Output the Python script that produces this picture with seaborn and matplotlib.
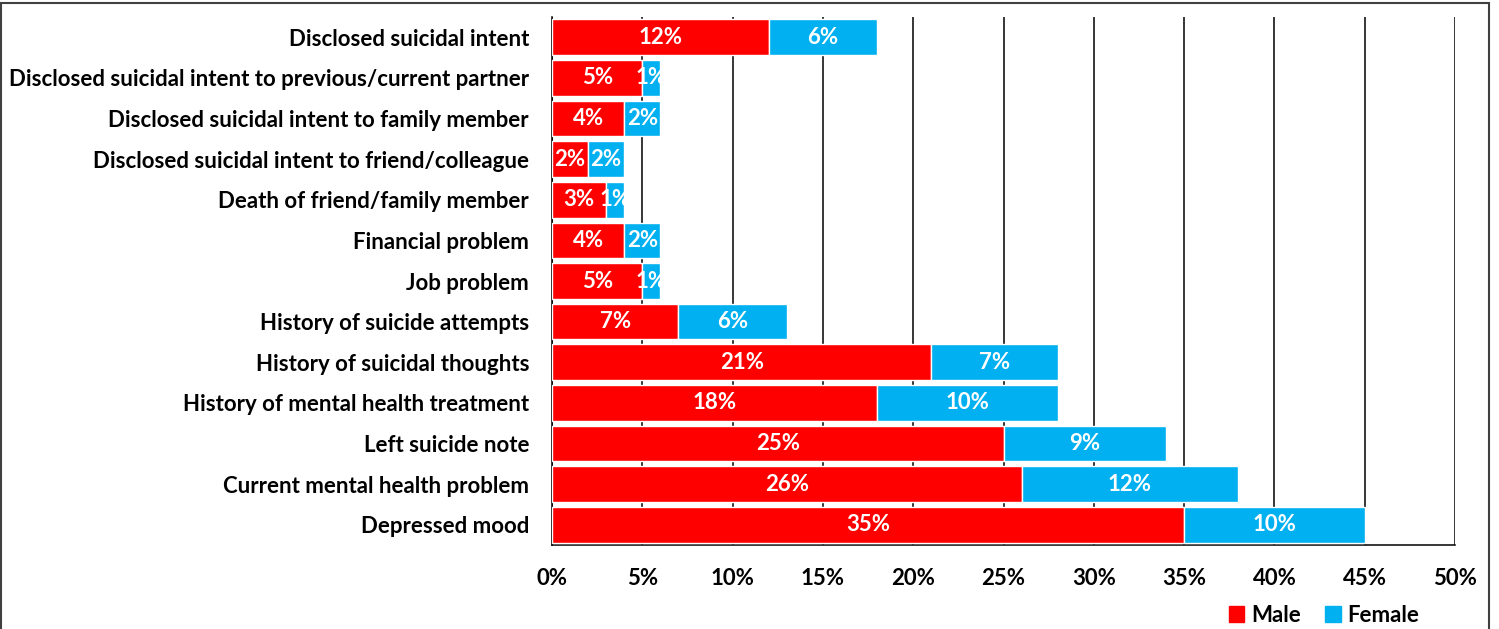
import numpy as np
import matplotlib
matplotlib.use("Agg")
import matplotlib.pyplot as plt
import matplotlib.patches as mpatches
from matplotlib.ticker import FixedLocator, PercentFormatter
import seaborn as sns

categories = [
    "Disclosed suicidal intent",
    "Disclosed suicidal intent to previous/current partner",
    "Disclosed suicidal intent to family member",
    "Disclosed suicidal intent to friend/colleague",
    "Death of friend/family member",
    "Financial problem",
    "Job problem",
    "History of suicide attempts",
    "History of suicidal thoughts",
    "History of mental health treatment",
    "Left suicide note",
    "Current mental health problem",
    "Depressed mood",
]
male = [12, 5, 4, 2, 3, 4, 5, 7, 21, 18, 25, 26, 35]
female = [6, 1, 2, 2, 1, 2, 1, 6, 7, 10, 9, 12, 10]
x_ticks = [0, 5, 10, 15, 20, 25, 30, 35, 40, 45, 50]

RED = "#FF0000"
BLUE = "#00B0F0"
FS = 16

sns.set_style("white")
plt.rcParams["font.family"] = ["Lato", "DejaVu Sans"]
plt.rcParams["font.weight"] = "bold"
plt.rcParams["text.color"] = "black"
plt.rcParams["xtick.color"] = "black"
plt.rcParams["ytick.color"] = "black"

fig = plt.figure(figsize=(14.99, 6.29), dpi=100)
ax = fig.add_axes([552 / 1499, 1 - 545 / 629, 903 / 1499, 528 / 629])

sns.barplot(x=male, y=categories, color=RED, width=0.88, saturation=1,
            orient="h", ax=ax, zorder=3)
pos = np.arange(len(categories))
ax.barh(pos, female, left=male, height=0.88, color=BLUE, zorder=3)

# labels in the middle of each segment
for cont, vals in zip(ax.containers, [male, female]):
    ax.bar_label(cont, labels=[f"{v}%" for v in vals], label_type="center",
                 color="white", fontsize=FS, fontweight="bold")

ax.set_xlim(0, 50)
ax.set_ylim(len(categories) - 0.5, -0.5)
ax.xaxis.set_major_locator(FixedLocator(x_ticks))
ax.xaxis.set_major_formatter(PercentFormatter(decimals=0))
ax.set_axisbelow(True)
ax.grid(axis="x", color="black", linewidth=1.1)
ax.grid(axis="y", visible=False)

ax.set_yticks(pos)
ax.set_yticks(np.arange(len(categories) + 1) - 0.5, minor=True)
ax.tick_params(axis="y", which="major", length=0, pad=16.5, labelsize=FS,
               labelcolor="black")
ax.tick_params(axis="y", which="minor", direction="inout", length=12, width=1, color="black")
ax.tick_params(axis="x", direction="inout", length=12, width=1, color="black",
               labelsize=FS, pad=10.5, labelcolor="black")
for lab in ax.get_xticklabels() + ax.get_yticklabels():
    lab.set_fontweight("bold")

for s in ["top", "right"]:
    ax.spines[s].set_visible(False)
for s in ["left", "bottom"]:
    ax.spines[s].set_color("black")
    ax.spines[s].set_linewidth(1.1)
ax.set_xlabel("")
ax.set_ylabel("")

handles = [mpatches.Patch(color=RED, label="Male"),
           mpatches.Patch(color=BLUE, label="Female")]
fig.legend(handles=handles, loc="center", ncol=2, frameon=False,
           bbox_to_anchor=(1324 / 1499, 1 - 615 / 629),
           handlelength=0.7, handleheight=0.7, handletextpad=0.3,
           columnspacing=1.1, labelcolor="black",
           prop={"size": 16, "weight": "bold"})

fig.patches.append(mpatches.Rectangle((0.0007, -0.05), 1488 / 1499, 1.05 - 3 / 629,
                                      transform=fig.transFigure, fill=False,
                                      edgecolor="#404040", linewidth=1.5))

fig.savefig("out.png", dpi=100)
